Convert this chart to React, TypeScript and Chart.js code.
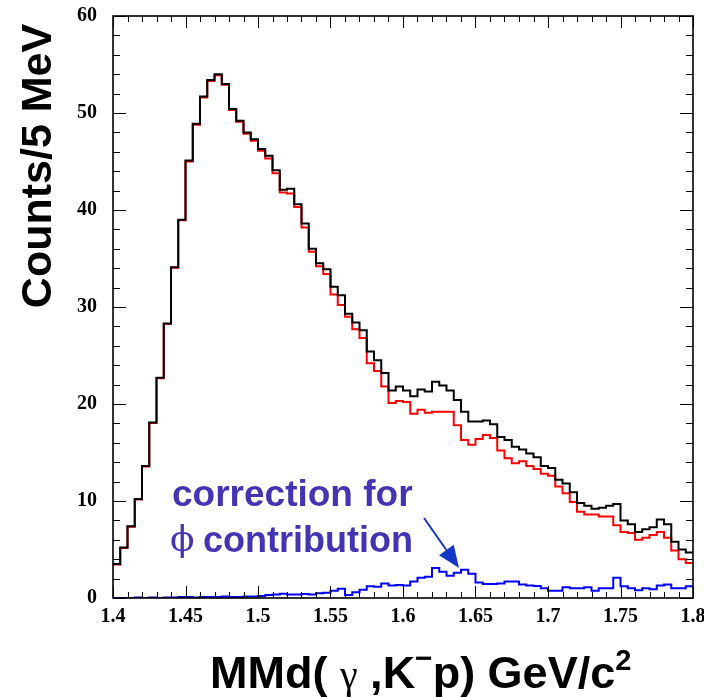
import React, { useEffect, useRef } from "react";
import { Chart, registerables } from "chart.js";

Chart.register(...registerables);

// Histogram binning: 80 bins of 5 MeV from 1.4 to 1.8 GeV
const BIN_LOW = 1.4;
const BIN_WIDTH = 0.005;

// Black: total counts
const TOTAL = [
  3.5, 5.2, 7.4, 10.2, 13.6, 18.1, 22.7, 28.3, 34.1, 39.0,
  45.1, 48.9, 51.7, 53.4, 54.0, 53.0, 50.4, 49.2, 48.0, 47.3,
  46.3, 45.6, 44.1, 42.1, 42.2, 40.6, 38.6, 36.0, 34.5, 33.9,
  32.1, 31.2, 29.3, 28.4, 27.6, 25.4, 24.5, 23.2, 21.4, 21.8,
  21.4, 20.8, 21.5, 21.3, 22.3, 21.9, 21.4, 20.4, 19.2, 18.2,
  18.2, 18.3, 17.9, 16.6, 16.3, 15.6, 15.3, 14.9, 14.5, 13.6,
  13.4, 12.2, 11.8, 10.9, 9.8, 9.5, 9.2, 9.3, 9.5, 9.7,
  8.0, 7.6, 6.8, 7.1, 7.3, 8.1, 7.6, 5.8, 5.0, 4.7,
];

// Red: after phi correction
const CORRECTED = [
  3.45, 5.15, 7.35, 10.15, 13.55, 18.05, 22.65, 28.25, 34.05, 38.95,
  45.0, 48.8, 51.6, 53.3, 53.9, 52.9, 50.3, 49.1, 47.85, 47.15,
  46.1, 45.3, 43.8, 41.8, 41.7, 40.3, 38.2, 35.7, 34.2, 33.4,
  31.3, 30.2, 29.0, 27.7, 26.8, 24.2, 23.4, 21.8, 20.1, 20.3,
  20.2, 19.0, 19.4, 19.1, 19.2, 19.2, 19.2, 17.8, 16.3, 15.8,
  16.4, 16.8, 16.5, 15.2, 14.4, 13.9, 14.1, 13.6, 13.3, 12.8,
  12.6, 11.5, 10.8, 9.9, 8.9, 8.6, 8.6, 8.4, 8.4, 7.5,
  6.8, 6.7, 6.0, 6.2, 6.5, 6.8, 6.2, 4.9, 4.0, 3.6,
];

// Blue: phi contribution
const PHI_CONTRIB = [
  0, 0, 0, 0.05, 0, 0.05, 0, 0.05, 0.05, 0.1,
  0.1, 0.05, 0.1, 0.1, 0.1, 0.15, 0.1, 0.1, 0.15, 0.15,
  0.2, 0.3, 0.35, 0.45, 0.35, 0.35, 0.4, 0.35, 0.5, 0.55,
  0.75, 0.95, 0.3, 0.6, 0.85, 1.2, 1.15, 1.5, 1.3, 1.35,
  1.3, 1.7, 2.1, 2.2, 3.1, 2.7, 2.3, 2.6, 2.9, 2.5,
  1.6, 1.45, 1.45, 1.5, 1.7, 1.7, 1.4, 1.3, 1.25, 1.0,
  0.75, 0.75, 1.1, 1.0, 1.0, 1.1, 0.75, 1.0, 1.0, 2.1,
  1.2, 1.0, 0.8, 1.0, 0.9, 1.3, 1.4, 1.0, 1.0, 1.2,
];

const X_TICKS = [1.4, 1.45, 1.5, 1.55, 1.6, 1.65, 1.7, 1.75, 1.8];
const X_TICK_LABELS = ["1.4", "1.45", "1.5", "1.55", "1.6", "1.65", "1.7", "1.75", "1.8"];
const Y_TICKS = [0, 10, 20, 30, 40, 50, 60];
const X_MINOR_STEP = 0.01;
const Y_MINOR_STEP = 2;

const SANS = '"Liberation Sans", Arial, sans-serif';
const SERIF = '"Liberation Serif", "Times New Roman", serif';

function toPoints(values: number[]) {
  const pts = values.map((v, i) => ({ x: BIN_LOW + i * BIN_WIDTH, y: v }));
  pts.push({ x: BIN_LOW + values.length * BIN_WIDTH, y: values[values.length - 1] });
  return pts;
}

const framePlugin = {
  id: "frameTicks",
  afterDatasetsDraw(chart: any) {
    const { ctx, chartArea: a, scales } = chart;
    const x = scales.x;
    const y = scales.y;
    ctx.save();
    ctx.strokeStyle = "#000";
    ctx.lineWidth = 1;
    const seg = (x1: number, y1: number, x2: number, y2: number) => {
      ctx.beginPath();
      ctx.moveTo(x1, y1);
      ctx.lineTo(x2, y2);
      ctx.stroke();
    };
    const xMin = x.min, xMax = x.max;
    const nx = Math.round((xMax - xMin) / X_MINOR_STEP);
    for (let k = 0; k <= nx; k++) {
      const v = xMin + k * X_MINOR_STEP;
      const px = Math.round(x.getPixelForValue(v)) + 0.5;
      const len = k % 5 === 0 ? 12 : 6;
      seg(px, a.bottom, px, a.bottom - len);
      seg(px, a.top, px, a.top + len);
    }
    const ny = Math.round((y.max - y.min) / Y_MINOR_STEP);
    for (let k = 0; k <= ny; k++) {
      const v = y.min + k * Y_MINOR_STEP;
      const py = Math.round(y.getPixelForValue(v)) + 0.5;
      const len = k % 5 === 0 ? 13 : 7;
      seg(a.left, py, a.left + len, py);
      seg(a.right, py, a.right - len, py);
    }
    ctx.lineWidth = 1.6;
    ctx.strokeRect(a.left, a.top, a.right - a.left, a.bottom - a.top);
    ctx.restore();
  },
};

const textPlugin = {
  id: "texts",
  afterDraw(chart: any) {
    const { ctx } = chart;
    ctx.save();
    ctx.fillStyle = "#000";

    // Y title
    ctx.save();
    ctx.translate(51, 166);
    ctx.rotate(-Math.PI / 2);
    ctx.font = `bold 43px ${SANS}`;
    ctx.textAlign = "center";
    ctx.textBaseline = "alphabetic";
    ctx.fillText("Counts/5 MeV", 0, 0);
    ctx.restore();

    // X title: MMd( γ ,K⁻p) GeV/c²
    ctx.textAlign = "left";
    ctx.textBaseline = "alphabetic";
    let cx = 210;
    const base = 688;
    const draw = (t: string, font: string, dy = 0) => {
      ctx.font = font;
      ctx.fillText(t, cx, base + dy);
      cx += ctx.measureText(t).width;
    };
    const big = `bold 45px ${SANS}`;
    draw("MMd( ", big);
    draw("\u03b3", `40px ${SERIF}`);
    draw(" ,K", big);
    draw("\u2212", `bold 30px ${SANS}`, -20);
    draw("p) GeV/c", big);
    draw("2", `bold 29px ${SANS}`, -18);

    // Annotation
    ctx.fillStyle = "#4334b4";
    ctx.font = `bold 37px ${SANS}`;
    ctx.fillText("correction for", 172, 506);
    ctx.font = `36px "DejaVu Serif", ${SERIF}`;
    ctx.fillText("\u03d5", 170, 551);
    ctx.font = `bold 36px ${SANS}`;
    ctx.fillText(" contribution", 193, 552);

    // Arrow
    const ax1 = 424, ay1 = 518, ax2 = 459, ay2 = 568;
    const ang = Math.atan2(ay2 - ay1, ax2 - ax1);
    const hl = 22, hw = 9;
    const bx = ax2 - hl * Math.cos(ang), by = ay2 - hl * Math.sin(ang);
    ctx.strokeStyle = "#1238c6";
    ctx.fillStyle = "#1238c6";
    ctx.lineWidth = 2;
    ctx.beginPath();
    ctx.moveTo(ax1, ay1);
    ctx.lineTo(bx, by);
    ctx.stroke();
    ctx.beginPath();
    ctx.moveTo(ax2, ay2);
    ctx.lineTo(bx + hw * Math.sin(ang), by - hw * Math.cos(ang));
    ctx.lineTo(bx - hw * Math.sin(ang), by + hw * Math.cos(ang));
    ctx.closePath();
    ctx.fill();

    ctx.restore();
  },
};

export default function App() {
  const ref = useRef<HTMLCanvasElement | null>(null);

  useEffect(() => {
    if (!ref.current) return;
    const ds = (label: string, values: number[], color: string) => ({
      label,
      data: toPoints(values),
      borderColor: color,
      backgroundColor: color,
      borderWidth: 2,
      stepped: "before" as const,
      pointRadius: 0,
      fill: false,
    });
    const chart = new Chart(ref.current, {
      type: "line",
      data: {
        datasets: [
          ds("total", TOTAL, "#000000"),
          ds("corrected", CORRECTED, "#ff0000"),
          ds("phi", PHI_CONTRIB, "#0000ff"),
        ],
      },
      options: {
        responsive: false,
        animation: false,
        events: [],
        layout: { padding: { top: 16, right: 11, left: 0, bottom: 0 } },
        plugins: { legend: { display: false }, tooltip: { enabled: false } },
        scales: {
          x: {
            type: "linear",
            min: 1.4,
            max: 1.8,
            grid: { display: false, drawTicks: false },
            border: { display: false },
            afterBuildTicks: (scale: any) => {
              scale.ticks = X_TICKS.map((v) => ({ value: v }));
            },
            afterFit: (scale: any) => {
              scale.height = 99;
              scale.paddingLeft = 0;
              scale.paddingRight = 0;
            },
            ticks: {
              autoSkip: false,
              maxRotation: 0,
              padding: 7,
              color: "#000",
              font: { family: SERIF, weight: "bold", size: 20 },
              callback: (v: any) => {
                const i = X_TICKS.findIndex((t) => Math.abs(t - Number(v)) < 1e-6);
                return i >= 0 ? X_TICK_LABELS[i] : "";
              },
            },
          },
          y: {
            min: 0,
            max: 60,
            grid: { display: false, drawTicks: false },
            border: { display: false },
            afterBuildTicks: (scale: any) => {
              scale.ticks = Y_TICKS.map((v) => ({ value: v }));
            },
            afterFit: (scale: any) => {
              scale.width = 113;
              scale.paddingTop = 0;
              scale.paddingBottom = 0;
            },
            ticks: {
              padding: 16,
              color: "#000",
              font: { family: SERIF, weight: "bold", size: 20 },
              callback: (v: any) => String(v),
            },
          },
        },
      },
      plugins: [framePlugin, textPlugin],
    });
    return () => chart.destroy();
  }, []);

  return (
    <div style={{ position: "fixed", left: 0, top: 0, width: 704, height: 697, background: "#fff" }}>
      <canvas ref={ref} width={704} height={697} style={{ display: "block" }} />
    </div>
  );
}
